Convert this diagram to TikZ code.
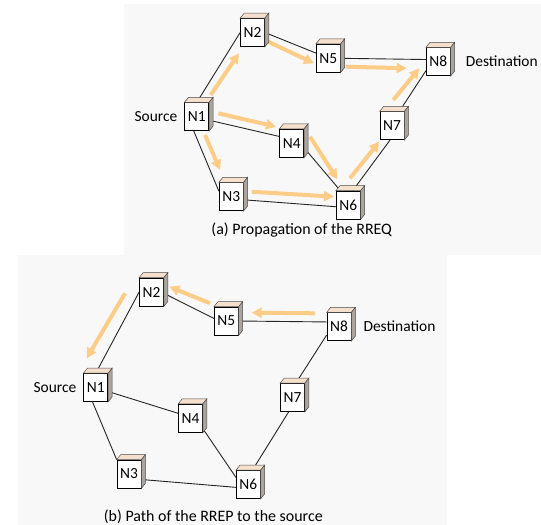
\documentclass[tikz,border=0pt]{standalone}
\usepackage{fontspec}
\setmainfont{Carlito}
\usetikzlibrary{positioning,calc,arrows.meta}

\definecolor{panelbg}{RGB}{248,248,248}
\definecolor{msgorange}{RGB}{253,205,135}
\definecolor{topc}{RGB}{245,224,206}
\definecolor{sidec}{RGB}{172,165,158}

\tikzset{
  host/.style={draw=black, fill=white, line width=0.7bp, minimum width=24bp, minimum height=28bp,
    inner sep=0pt, font=\fontsize{15.5}{18}\selectfont},
  topface/.style={fill=topc, draw=gray!60!black, line width=0.5bp},
  sideface/.style={fill=sidec, draw=gray!60!black, line width=0.5bp},
  link/.style={black!85, line width=0.9bp},
  msg/.style={draw=msgorange, line width=4bp, -{Triangle[length=10bp,width=10bp]}},
  tag/.style={inner sep=0pt, font=\fontsize{15.5}{18}\selectfont},
}

\begin{document}
\begin{tikzpicture}[x=1bp,y=-1bp]
	\useasboundingbox (0,0) rectangle (541,525);
	\fill[panelbg] (124,4) rectangle (541,255);
	\fill[panelbg] (18,255) rectangle (447,525);

	% (a) route request flooding
	\node[host] (a1) at (196.8,116.7) {N1};
	\node[host] (a2) at (252.5,32.5) {N2};
	\node[host] (a3) at (231.2,196.7) {N3};
	\node[host] (a4) at (291.7,143.3) {N4};
	\node[host] (a5) at (328.2,58.3) {N5};
	\node[host] (a6) at (348.3,205) {N6};
	\node[host] (a7) at (392,125.8) {N7};
	\node[host] (a8) at (438.3,61.7) {N8};
	\node[tag, left=7bp of a1] (srcA) {Source};
	\node[tag, right=15bp of a8] (dstA) {Destination};
	\node[tag, font=\fontsize{16}{18}\selectfont] (capA) at (301.7,230) {(a) Propagation of the RREQ};

	\foreach \u/\su/\v/\sv in {1/north/2/west, 2/east/5/157, 5/east/8/170, 1/344/4/151, 1/258/3/156,
		4/340/6/119, 3/346/6/188, 6/73/7/262, 7/63/8/216}
		\draw[link] (a\u.\su) -- (a\v.\sv);

	\draw[msg] ($(a1)+(13.9,-21.7)$) -- ($(a2)+(-13.5,20.8)$);
	\draw[msg] ($(a2)+(15.8,9.2)$) -- ($(a5)+(-14.2,5)$);
	\draw[msg] ($(a5)+(17.8,8.4)$) -- ($(a8)+(-31.6,6.6)$);
	\draw[msg] ($(a1)+(21.5,-3.4)$) -- ($(a4)+(-15.7,-16.6)$);
	\draw[msg] ($(a1)+(8.2,18.3)$) -- ($(a3)+(-11.2,-26.7)$);
	\draw[msg] ($(a4)+(18.3,-6.6)$) -- ($(a6)+(-11,-25.7)$);
	\draw[msg] ($(a3)+(20.5,-5)$) -- ($(a6)+(-14.3,-8.3)$);
	\draw[msg] ($(a6)+(1.7,-26.7)$) -- ($(a7)+(-12.7,15.9)$);
	\draw[msg] ($(a7)+(1.3,-25.8)$) -- ($(a8)+(-19,6.6)$);

	% (b) route reply back to the source
	\node[host] (b1) at (95.8,387.5) {N1};
	\node[host] (b2) at (151.5,292) {N2};
	\node[host] (b3) at (129,474) {N3};
	\node[host] (b4) at (190.5,418.3) {N4};
	\node[host] (b5) at (226.3,321) {N5};
	\node[host] (b6) at (248.3,484.5) {N6};
	\node[host] (b7) at (292.5,397.5) {N7};
	\node[host] (b8) at (339,326.7) {N8};
	\node[tag, left=7bp of b1] (srcB) {Source};
	\node[tag, right=12bp of b8] (dstB) {Destination};
	\node[tag, font=\fontsize{16}{18}\selectfont] (capB) at (213.3,516.7) {(b) Path of the RREP to the source};

	\foreach \u/\su/\v/\sv in {1/north/2/west, 2/354/5/168, 5/east/8/159, 1/342/4/158, 1/257/3/north west,
		4/320/6/150, 3/336/6/193, 6/74/7/255, 7/77/8/214}
		\draw[link] (b\u.\su) -- (b\v.\sv);

	\draw[msg] ($(b8)+(-24,-13.4)$) -- ($(b5)+(25.4,-8.3)$);
	\draw[msg] ($(b5)+(-16.3,-17.7)$) -- ($(b2)+(17.8,-5.3)$);
	\draw[msg] ($(b2)+(-26.5,1.3)$) -- ($(b1)+(-9.1,-29.2)$);

	% cube faces
	\foreach \p in {a,b}
		\foreach \i in {1,...,8} {
			\filldraw[topface] (\p\i.north west) -- ++(4,-5) -- ([shift={(4,-5)}]\p\i.north east) -- (\p\i.north east) -- cycle;
			\filldraw[sideface] (\p\i.north east) -- ++(4,-5) -- ([shift={(4,-5)}]\p\i.south east) -- (\p\i.south east) -- cycle;
		}
\end{tikzpicture}
\end{document}
